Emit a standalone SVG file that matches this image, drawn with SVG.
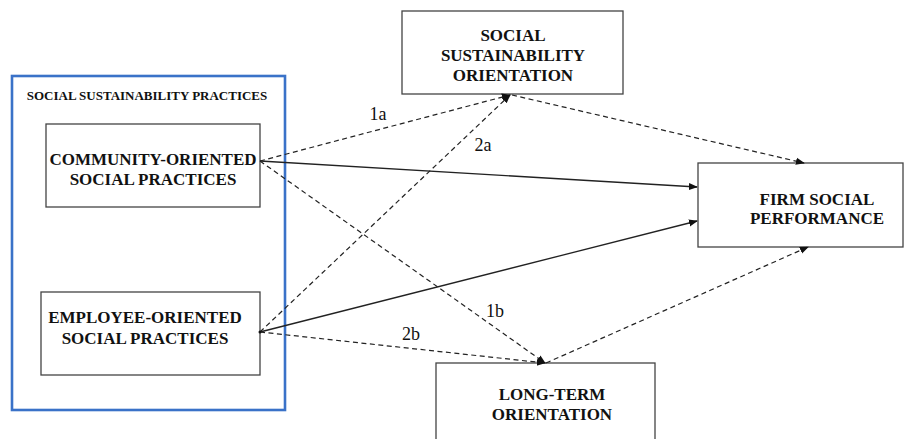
<svg xmlns="http://www.w3.org/2000/svg" width="905" height="439" viewBox="0 0 905 439">
  <defs>
    <marker id="head" viewBox="0 0 10 10" refX="9" refY="5" markerWidth="9" markerHeight="9" markerUnits="userSpaceOnUse" orient="auto">
      <path d="M0,1 L10,5 L0,9 Z" fill="#111"/>
    </marker>
    <style>
      .box { fill: #fff; stroke: #444; stroke-width: 1.3; }
      .group { fill: none; stroke: #3a72c8; stroke-width: 2.6; }
      .t { font-family: "Liberation Serif", "Times New Roman", serif; font-weight: bold; fill: #111; text-anchor: middle; }
      .lbl { font-family: "Liberation Serif", "Times New Roman", serif; font-size: 18px; fill: #111; text-anchor: middle; }
      .solid { stroke: #222; stroke-width: 1.3; fill: none; marker-end: url(#head); }
      .dash { stroke: #222; stroke-width: 1.2; fill: none; stroke-dasharray: 5 3.5; marker-end: url(#head); }
    </style>
  </defs>
  <rect width="905" height="439" fill="#fff"/>

  <!-- grouping frame for the two practice types -->
  <g id="practices">
    <rect class="group" x="12" y="76" width="273" height="334"/>
    <text class="t" x="147" y="100" font-size="13">SOCIAL SUSTAINABILITY PRACTICES</text>
  </g>

  <g id="community">
    <rect class="box" x="46" y="124" width="214" height="83"/>
    <text class="t" x="153" y="165" font-size="17">COMMUNITY-ORIENTED</text>
    <text class="t" x="153" y="185" font-size="17">SOCIAL PRACTICES</text>
  </g>

  <g id="employee">
    <rect class="box" x="41" y="292" width="219" height="83"/>
    <text class="t" x="145" y="323" font-size="17">EMPLOYEE-ORIENTED</text>
    <text class="t" x="145" y="344" font-size="17">SOCIAL PRACTICES</text>
  </g>

  <g id="sso">
    <rect class="box" x="402" y="11" width="221" height="83"/>
    <text class="t" x="513" y="41" font-size="17">SOCIAL</text>
    <text class="t" x="513" y="61" font-size="17">SUSTAINABILITY</text>
    <text class="t" x="513" y="81" font-size="17">ORIENTATION</text>
  </g>

  <g id="fsp">
    <rect class="box" x="698" y="163" width="205" height="84"/>
    <text class="t" x="817" y="205" font-size="17">FIRM SOCIAL</text>
    <text class="t" x="817" y="224" font-size="17">PERFORMANCE</text>
  </g>

  <g id="lto">
    <rect class="box" x="436" y="363" width="219" height="80"/>
    <text class="t" x="552" y="400" font-size="17">LONG-TERM</text>
    <text class="t" x="552" y="420" font-size="17">ORIENTATION</text>
  </g>

  <g id="connectors">
    <!-- direct effects -->
    <line class="solid" x1="260" y1="161" x2="697" y2="187"/>
    <line class="solid" x1="260" y1="332" x2="697" y2="221"/>
    <!-- paths to the mediators -->
    <line class="dash" x1="260" y1="161" x2="510" y2="95"/>
    <line class="dash" x1="260" y1="332" x2="510" y2="95"/>
    <line class="dash" x1="260" y1="161" x2="545" y2="363"/>
    <line class="dash" x1="260" y1="332" x2="545" y2="363"/>
    <!-- mediators to performance -->
    <line class="dash" x1="512" y1="95" x2="804" y2="163"/>
    <line class="dash" x1="546" y1="363" x2="808" y2="247"/>
    <circle cx="260" cy="332" r="1.5" fill="#111"/>
    <text class="lbl" x="378" y="120">1a</text>
    <text class="lbl" x="483" y="151">2a</text>
    <text class="lbl" x="495" y="317">1b</text>
    <text class="lbl" x="411" y="340">2b</text>
  </g>
</svg>
